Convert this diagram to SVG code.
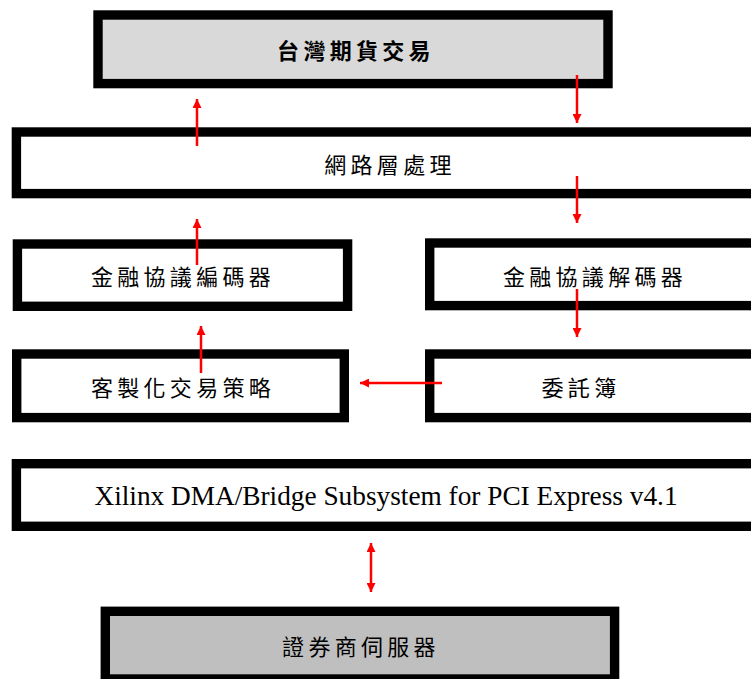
<svg xmlns="http://www.w3.org/2000/svg" width="751" height="679" viewBox="0 0 751 679">
<defs>
<style>
.box{fill:#ffffff;stroke:#000000;stroke-width:9.4}
.gray1{fill:#d9d9d9}
.gray2{fill:#bfbfbf}
.cjk{font-family:"Noto Sans CJK TC","Noto Sans CJK SC",sans-serif;font-size:22px;letter-spacing:4.3px;fill:#000;text-anchor:middle;dominant-baseline:central}
.bold{font-weight:bold}
.lat{font-family:"Liberation Serif","Times New Roman",serif;font-size:27.3px;fill:#000;text-anchor:middle}
.conn{stroke:#ff0000;stroke-width:2.5;fill:none}
</style>
<marker id="ah" viewBox="0 0 10 10" refX="10" refY="5" markerWidth="9" markerHeight="9" markerUnits="userSpaceOnUse" orient="auto-start-reverse">
<path d="M0,0 L10,5 L0,10 Z" fill="#ff0000"/>
</marker>
</defs>
<rect width="751" height="679" fill="#ffffff"/>
<g id="node-taifex">
<rect class="box gray1" x="98" y="15" width="510" height="68.6"/>
<text class="cjk bold" x="356" y="49">台灣期貨交易</text>
</g>
<g id="node-network">
<rect class="box" x="16.4" y="132" width="760" height="61.6"/>
<text class="cjk" x="390" y="163">網路層處理</text>
</g>
<g id="node-encoder">
<rect class="box" x="17.4" y="244" width="330.2" height="62.3"/>
<text class="cjk" x="183" y="275">金融協議編碼器</text>
</g>
<g id="node-decoder">
<rect class="box" x="429.7" y="243" width="400" height="62.6"/>
<text class="cjk" x="595" y="275">金融協議解碼器</text>
</g>
<g id="node-strategy">
<rect class="box" x="16.7" y="354" width="327.6" height="63.6"/>
<text class="cjk" x="183" y="386">客製化交易策略</text>
</g>
<g id="node-orderbook">
<rect class="box" x="429.7" y="354" width="400" height="63.6"/>
<text class="cjk" x="581" y="386">委託簿</text>
</g>
<g id="node-xdma">
<rect class="box" x="16.4" y="463.7" width="760" height="62.6"/>
<text class="lat" x="386" y="505">Xilinx DMA/Bridge Subsystem for PCI Express v4.1</text>
</g>
<g id="node-server">
<rect class="box gray2" x="105.3" y="611.3" width="509.3" height="67.7"/>
<text class="cjk" x="361" y="645">證券商伺服器</text>
</g>
<g id="connectors">
<line class="conn" x1="197" y1="146" x2="197" y2="99" marker-end="url(#ah)"/>
<line class="conn" x1="577" y1="75" x2="577" y2="123" marker-end="url(#ah)"/>
<line class="conn" x1="577" y1="176" x2="577" y2="223" marker-end="url(#ah)"/>
<line class="conn" x1="197" y1="265" x2="197" y2="219" marker-end="url(#ah)"/>
<line class="conn" x1="201" y1="373" x2="201" y2="326" marker-end="url(#ah)"/>
<line class="conn" x1="577" y1="289" x2="577" y2="337" marker-end="url(#ah)"/>
<line class="conn" x1="442" y1="383" x2="360" y2="383" marker-end="url(#ah)"/>
<line class="conn" x1="371" y1="543" x2="371" y2="592" marker-start="url(#ah)" marker-end="url(#ah)"/>
</g>
</svg>
